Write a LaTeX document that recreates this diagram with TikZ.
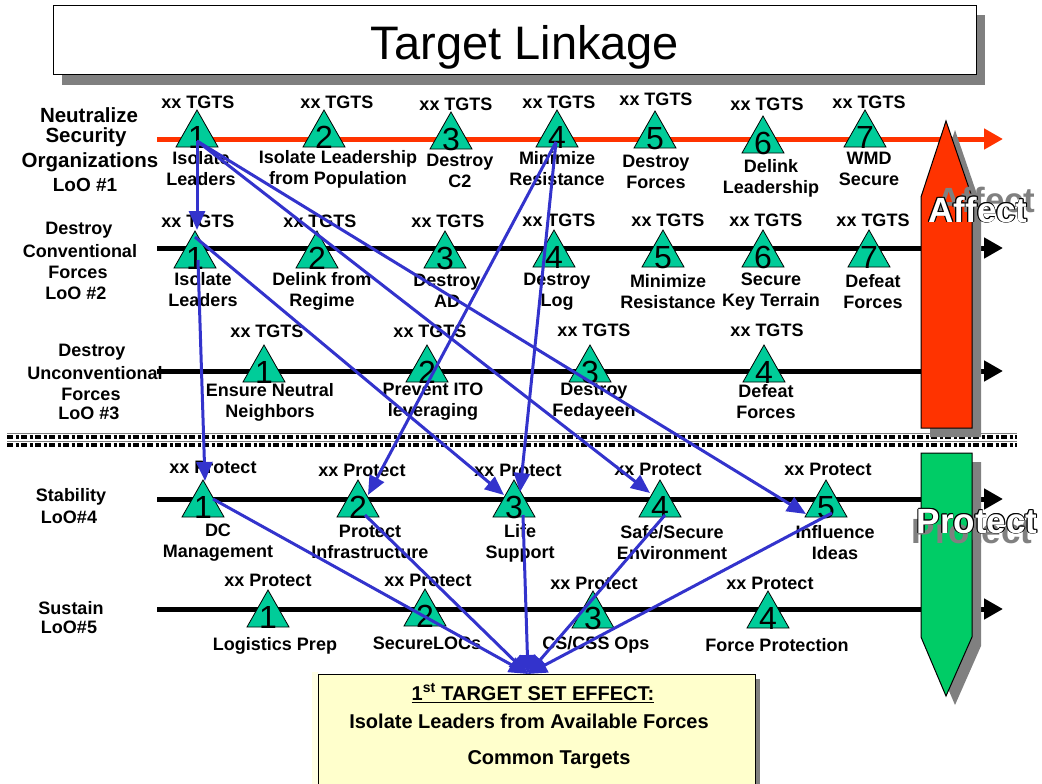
\documentclass[tikz,border=0pt]{standalone}
\usepackage{fontspec}
\setmainfont{Liberation Sans}
\usetikzlibrary{arrows.meta}
\definecolor{tgreen}{RGB}{0,204,153}
\definecolor{bgreen}{RGB}{0,204,102}
\definecolor{lred}{RGB}{255,51,0}
\definecolor{lblue}{RGB}{51,51,204}
\definecolor{lyellow}{RGB}{255,255,204}
\definecolor{shad}{RGB}{128,128,128}
\tikzset{
  lbl/.style={font=\fontsize{18}{21}\selectfont\bfseries, align=center, inner sep=0pt},
  biglbl/.style={font=\fontsize{20.5}{23}\selectfont\bfseries, inner sep=0pt},
  tri/.style={draw=black, fill=tgreen, line width=0.8pt},
  num/.style={font=\fontsize{32}{32}\selectfont, inner sep=0pt, anchor=base},
  link/.style={draw=lblue, line width=3pt, -{Triangle[length=19pt,width=16pt]}},
  loo/.style={line width=5pt, -{Triangle[length=19pt,width=20pt]}},
  bigword/.style={font=\fontsize{35}{35}\selectfont\bfseries, inner sep=0pt, anchor=base},
  boxtxt/.style={font=\fontsize{20}{24}\selectfont\bfseries, inner sep=0pt},
}
\newcommand{\tgt}[4]{%
  \draw[tri] (#2-21,#3) -- (#2,#3-37) -- (#2+21,#3) -- cycle;
  \node[num] (#1) at (#2,#3+1) {#4};
}
\newcommand{\outlined}[4]{%
  \node[bigword,text=black] (#1a) at (#2-0.9,#3) {#4};
  \node[bigword,text=black] (#1b) at (#2+0.9,#3) {#4};
  \node[bigword,text=black] (#1c) at (#2,#3-0.9) {#4};
  \node[bigword,text=black] (#1d) at (#2,#3+0.9) {#4};
  \node[bigword,text=black] (#1e) at (#2-0.7,#3-0.7) {#4};
  \node[bigword,text=black] (#1f) at (#2+0.7,#3+0.7) {#4};
  \node[bigword,text=black] (#1g) at (#2+0.7,#3-0.7) {#4};
  \node[bigword,text=black] (#1h) at (#2-0.7,#3+0.7) {#4};
  \node[bigword,text=white] (#1) at (#2,#3) {#4};
}
\begin{document}
\begin{tikzpicture}[x=1pt,y=-1pt]
\useasboundingbox (0,0) rectangle (1042,784);
% title
\fill[shad] (62,15) rectangle (985,85);
\draw[line width=1pt, fill=white] (53,6) rectangle (976,75);
\node[font=\fontsize{47}{47}\selectfont, anchor=base, inner sep=0pt] (title) at (525,60) {Target Linkage};

% lines of operation
\draw[loo, lred] (157,139) -- (1003,139);
\draw[loo, black] (157,248) -- (1003,248);
\draw[loo, black] (157,371) -- (1003,371);
\draw[loo, black] (157,499) -- (1003,499);
\draw[loo, black] (157,609) -- (1003,609);

% divider
\draw[shad, line width=1pt] (7,433.5) -- (1017,433.5);
\draw[shad, line width=1pt] (7,441.5) -- (1017,441.5);
\draw[black, line width=3.5pt, dash pattern=on 6pt off 2.5pt on 3pt off 2.5pt] (7,437) -- (1017,437);
\draw[black, line width=3.5pt, dash pattern=on 6pt off 2.5pt on 3pt off 2.5pt] (7,445) -- (1017,445);

% big arrows
\fill[shad, shift={(9,9)}] (946,121) -- (972,197) -- (972,428) -- (921,428) -- (921,197) -- cycle;
\draw[fill=lred, line width=1pt] (946,121) -- (972,197) -- (972,428) -- (921,428) -- (921,197) -- cycle;
\fill[shad, shift={(9,9)}] (921,453) -- (972,453) -- (972,637) -- (946,696) -- (921,637) -- cycle;
\draw[fill=bgreen, line width=1pt] (921,453) -- (972,453) -- (972,637) -- (946,696) -- (921,637) -- cycle;

% row labels
\node[biglbl] (n1) at (89,115) {Neutralize};
\node[biglbl] (n2) at (86,137) {Security};
\node[biglbl] (n3) at (90,162) {Organizations};
\node[lbl, font=\fontsize{19}{21}\selectfont\bfseries] (n4) at (85,185) {LoO \#1};
\node[lbl] (c1) at (79,230) {Destroy};
\node[lbl] (c2) at (80,251) {Conventional};
\node[lbl] (c3) at (78,272) {Forces};
\node[lbl] (c4) at (76,293) {LoO \#2};
\node[lbl] (u1) at (92,352) {Destroy};
\node[lbl] (u2) at (95,373) {Unconventional};
\node[lbl] (u3) at (91,394) {Forces};
\node[lbl] (u4) at (89,413) {LoO \#3};
\node[lbl] (s1) at (71,497) {Stability};
\node[lbl] (s2) at (69,517) {LoO\#4};
\node[lbl] (t1) at (71,608) {Sustain};
\node[lbl] (t2) at (69,627) {LoO\#5};

% row 1
\tgt{a1}{197}{147}{1}
\tgt{a2}{324}{147}{2}
\tgt{a3}{451}{149}{3}
\tgt{a4}{557}{147}{4}
\tgt{a5}{655}{148}{5}
\tgt{a6}{763}{153}{6}
\tgt{a7}{865}{147}{7}
\node[lbl] (xa1) at (198,102) {xx TGTS};
\node[lbl] (xa2) at (337,102) {xx TGTS};
\node[lbl] (xa3) at (456,104) {xx TGTS};
\node[lbl] (xa4) at (559,102) {xx TGTS};
\node[lbl] (xa5) at (656,99) {xx TGTS};
\node[lbl] (xa6) at (767,104) {xx TGTS};
\node[lbl] (xa7) at (869,102) {xx TGTS};
\node[lbl] (la1) at (201,169) {Isolate\\Leaders};
\node[lbl] (la2) at (338,169) {Isolate Leadership\\from Population};
\node[lbl, fill=white] (la3) at (460,171) {Destroy\\C2};
\node[lbl] (la4) at (557,169) {Minimize\\Resistance};
\node[lbl] (la5) at (656,172) {Destroy\\Forces};
\node[lbl] (la6) at (771,178) {Delink\\Leadership};
\node[lbl] (la7) at (869,169) {WMD\\Secure};

% row 2
\tgt{b1}{195}{268}{1}
\tgt{b2}{317}{268}{2}
\tgt{b3}{445}{268}{3}
\tgt{b4}{554}{267}{4}
\tgt{b5}{663}{267}{5}
\tgt{b6}{763}{267}{6}
\tgt{b7}{869}{267}{7}
\node[lbl] (xb1) at (198,221) {xx TGTS};
\node[lbl] (xb2) at (320,221) {xx TGTS};
\node[lbl] (xb3) at (448,221) {xx TGTS};
\node[lbl] (xb4) at (559,220) {xx TGTS};
\node[lbl] (xb5) at (668,220) {xx TGTS};
\node[lbl] (xb6) at (766,220) {xx TGTS};
\node[lbl] (xb7) at (873,220) {xx TGTS};
\node[lbl] (lb1) at (203,290) {Isolate\\Leaders};
\node[lbl] (lb2) at (322,291) {Delink from\\Regime};
\node[lbl] (lb3) at (447,291) {Destroy\\AD};
\node[lbl] (lb4) at (557,292) {Destroy\\Log};
\node[lbl] (lb5) at (668,292) {Minimize\\Resistance};
\node[lbl] (lb6) at (771,292) {Secure\\Key Terrain};
\node[lbl] (lb7) at (873,292) {Defeat\\Forces};

% row 3
\tgt{c1t}{264}{382}{1}
\tgt{c2t}{427}{382}{2}
\tgt{c3t}{590}{382}{3}
\tgt{c4t}{764}{382}{4}
\node[lbl] (xc1) at (267,331) {xx TGTS};
\node[lbl] (xc2) at (430,331) {xx TGTS};
\node[lbl] (xc3) at (594,330) {xx TGTS};
\node[lbl] (xc4) at (767,330) {xx TGTS};
\node[lbl] (lc1) at (270,402) {Ensure Neutral\\Neighbors};
\node[lbl] (lc2) at (433,402) {Prevent ITO\\leveraging};
\node[lbl] (lc3) at (594,402) {Destroy\\Fedayeen};
\node[lbl] (lc4) at (766,402) {Defeat\\Forces};

% row 4
\tgt{d1}{203}{517}{1}
\tgt{d2}{358}{517}{2}
\tgt{d3}{514}{517}{3}
\tgt{d4}{660}{517}{4}
\tgt{d5}{826}{517}{5}
\node[lbl] (xd1) at (213,467) {xx Protect};
\node[lbl] (xd2) at (362,470) {xx Protect};
\node[lbl] (xd3) at (518,470) {xx Protect};
\node[lbl] (xd4) at (658,469) {xx Protect};
\node[lbl] (xd5) at (828,469) {xx Protect};
\node[lbl] (ld1) at (218,543) {DC\\Management};
\node[lbl] (ld2) at (370,542) {Protect\\Infrastructure};
\node[lbl] (ld3) at (520,543) {Life\\Support};
\node[lbl] (ld4) at (672,543) {Safe/Secure\\Environment};
\node[lbl] (ld5) at (835,543) {Influence\\Ideas};

% row 5
\tgt{e1}{268}{627}{1}
\tgt{e2}{425}{626}{2}
\tgt{e3}{593}{628}{3}
\tgt{e4}{768}{628}{4}
\node[lbl] (xe1) at (268,580) {xx Protect};
\node[lbl] (xe2) at (428,580) {xx Protect};
\node[lbl] (xe3) at (594,583) {xx Protect};
\node[lbl] (xe4) at (770,583) {xx Protect};
\node[lbl] (le1) at (275,646) {Logistics Prep};
\node[lbl] (le2) at (427,643) {SecureLOCs};
\node[lbl] (le3) at (596,645) {CS/CSS Ops};
\node[lbl] (le4) at (777,645) {Force Protection};

% bottom box
\fill[lyellow!50] (312,672) rectangle (318,784);
\fill[shad] (755,679) rectangle (760,784);
\fill[lyellow] (318,674) rectangle (755,784);
\draw[line width=1pt] (318,784) -- (318,674) -- (755,674) -- (755,784);
\node[boxtxt] (bx1) at (533,693) {\underline{1\textsuperscript{st} TARGET SET EFFECT:}};
\node[boxtxt] (bx2) at (529,721) {Isolate Leaders from Available Forces};
\node[boxtxt] (bx3) at (549,760) {Common Targets};

% big arrow words
\node[bigword, text=shad] (affsh) at (986,212) {Affect};
\outlined{aff}{978}{222}{Affect}
\node[bigword, text=shad] (prosh) at (972,543) {Protect};
\outlined{pro}{977}{533}{Protect}

% connector points
\coordinate (pa1) at (197,141);
\coordinate (pa4) at (556,142);
\coordinate (pb1d) at (195,237);
\coordinate (pb1v) at (198,260);
\coordinate (qb1) at (197,230);
\coordinate (qd1) at (205,481);
\coordinate (qd2) at (368,495);
\coordinate (qd3a) at (504,495);
\coordinate (qd3b) at (520,492);
\coordinate (qd4) at (650,493);
\coordinate (qd5) at (806,514);
\coordinate (pd1) at (213,499);
\coordinate (pd2) at (365,515);
\coordinate (pd3) at (523,515);
\coordinate (pd4) at (665,515);
\coordinate (pd5) at (832,513);
\coordinate (box) at (528,674);

\draw[link] (pa1) -- (qb1);
\draw[link] (pa1) -- (qd4);
\draw[link] (pa1) -- (qd5);
\draw[link] (pa4) -- (qd2);
\draw[link] (pa4) -- (qd3b);
\draw[link] (pb1d) -- (qd3a);
\draw[link] (pb1v) -- (qd1);
\draw[link] (pd1) -- (box);
\draw[link] (pd2) -- (box);
\draw[link] (pd3) -- (box);
\draw[link] (pd4) -- (box);
\draw[link] (pd5) -- (box);
\end{tikzpicture}
\end{document}
